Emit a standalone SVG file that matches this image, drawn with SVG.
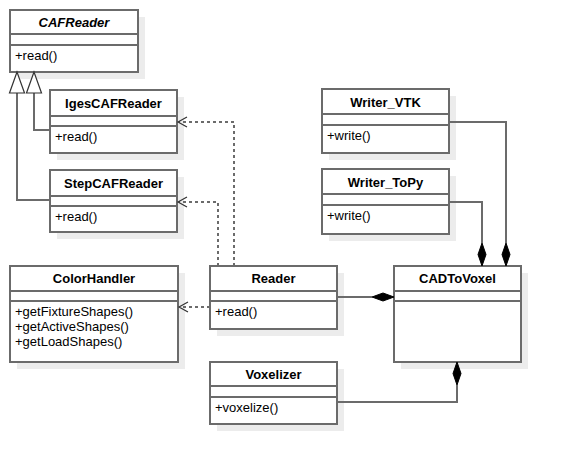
<svg xmlns="http://www.w3.org/2000/svg" width="561" height="465" viewBox="0 0 561 465">
<style>
.sh{fill:#ececec;stroke:none}
.box{fill:#fff;stroke:#6b6b6b;stroke-width:2}
.sep{stroke:#6b6b6b;stroke-width:2}
.t{font-family:"Liberation Sans",Arial,sans-serif;font-size:13px;font-weight:bold;fill:#000;text-anchor:middle}
.ti{font-style:italic}
.m{font-family:"Liberation Sans",Arial,sans-serif;font-size:13px;fill:#000}
.ln{fill:none;stroke:#6b6b6b;stroke-width:2}
.dash{fill:none;stroke:#6b6b6b;stroke-width:2;stroke-dasharray:3 3}
.tri{fill:#fff;stroke:#333;stroke-width:1.2}
.dia{fill:#000;stroke:#000;stroke-width:1}
.open{fill:none;stroke:#333;stroke-width:1.2}
</style>
<rect width="561" height="465" fill="#fff"/>
<g id="CAFReader">
<rect class="sh" x="17" y="17" width="128" height="62"/>
<rect class="box" x="10" y="10" width="128" height="62"/>
<line class="sep" x1="10" y1="34" x2="138" y2="34"/>
<line class="sep" x1="10" y1="45" x2="138" y2="45"/>
<text class="t ti" x="74" y="27">CAFReader</text>
<text class="m" x="15" y="60">+read()</text>
</g>
<g id="IgesCAFReader">
<rect class="sh" x="57" y="97" width="127" height="63"/>
<rect class="box" x="50" y="90" width="127" height="63"/>
<line class="sep" x1="50" y1="116" x2="177" y2="116"/>
<line class="sep" x1="50" y1="126" x2="177" y2="126"/>
<text class="t" x="113.5" y="108">IgesCAFReader</text>
<text class="m" x="55" y="141">+read()</text>
</g>
<g id="StepCAFReader">
<rect class="sh" x="57" y="177" width="127" height="62"/>
<rect class="box" x="50" y="170" width="127" height="62"/>
<line class="sep" x1="50" y1="196" x2="177" y2="196"/>
<line class="sep" x1="50" y1="206" x2="177" y2="206"/>
<text class="t" x="113.5" y="188">StepCAFReader</text>
<text class="m" x="55" y="221">+read()</text>
</g>
<g id="Writer_VTK">
<rect class="sh" x="329" y="96" width="127" height="64"/>
<rect class="box" x="322" y="89" width="127" height="64"/>
<line class="sep" x1="322" y1="114" x2="449" y2="114"/>
<line class="sep" x1="322" y1="125" x2="449" y2="125"/>
<text class="t" x="385.5" y="107">Writer_VTK</text>
<text class="m" x="327" y="140">+write()</text>
</g>
<g id="Writer_ToPy">
<rect class="sh" x="329" y="176" width="127" height="65"/>
<rect class="box" x="322" y="169" width="127" height="65"/>
<line class="sep" x1="322" y1="194" x2="449" y2="194"/>
<line class="sep" x1="322" y1="205" x2="449" y2="205"/>
<text class="t" x="385.5" y="187">Writer_ToPy</text>
<text class="m" x="327" y="220">+write()</text>
</g>
<g id="ColorHandler">
<rect class="sh" x="17" y="273" width="168" height="96"/>
<rect class="box" x="10" y="266" width="168" height="96"/>
<line class="sep" x1="10" y1="291" x2="178" y2="291"/>
<line class="sep" x1="10" y1="301" x2="178" y2="301"/>
<text class="t" x="94" y="283">ColorHandler</text>
<text class="m" x="15" y="316">+getFixtureShapes()</text>
<text class="m" x="15" y="331">+getActiveShapes()</text>
<text class="m" x="15" y="346">+getLoadShapes()</text>
</g>
<g id="Reader">
<rect class="sh" x="217" y="273" width="127" height="63"/>
<rect class="box" x="210" y="266" width="127" height="63"/>
<line class="sep" x1="210" y1="291" x2="337" y2="291"/>
<line class="sep" x1="210" y1="301" x2="337" y2="301"/>
<text class="t" x="273.5" y="283">Reader</text>
<text class="m" x="215" y="316">+read()</text>
</g>
<g id="CADToVoxel">
<rect class="sh" x="401" y="273" width="127" height="96"/>
<rect class="box" x="394" y="266" width="127" height="96"/>
<line class="sep" x1="394" y1="291" x2="521" y2="291"/>
<line class="sep" x1="394" y1="301" x2="521" y2="301"/>
<text class="t" x="457.5" y="283">CADToVoxel</text>
</g>
<g id="Voxelizer">
<rect class="sh" x="217" y="369" width="127" height="62"/>
<rect class="box" x="210" y="362" width="127" height="62"/>
<line class="sep" x1="210" y1="386" x2="337" y2="386"/>
<line class="sep" x1="210" y1="397" x2="337" y2="397"/>
<text class="t" x="273.5" y="379">Voxelizer</text>
<text class="m" x="215" y="412">+voxelize()</text>
</g>
<g id="connectors">
<polyline class="ln" points="17,93 17,200 50,200"/>
<polyline class="ln" points="34,93 34,130 50,130"/>
<polygon class="tri" points="17,72 9.5,93 24.5,93"/>
<polygon class="tri" points="34,72 26.5,93 41.5,93"/>
<polyline class="dash" points="234,266 234,122 179,122"/>
<polyline class="open" points="187,117 178,122 187,127"/>
<polyline class="dash" points="218,266 218,202 179,202"/>
<polyline class="open" points="187,197 178,202 187,207"/>
<line class="dash" x1="210" y1="307" x2="180" y2="307"/>
<polyline class="open" points="188,302 179,307 188,312"/>
<line class="ln" x1="337" y1="297" x2="372" y2="297"/>
<polygon class="dia" points="394,297 383,293 372,297 383,301"/>
<polyline class="ln" points="337,402 457,402 457,385"/>
<polygon class="dia" points="457,362 453,373.5 457,385 461,373.5"/>
<polyline class="ln" points="449,122 506,122 506,243"/>
<polygon class="dia" points="506,266 502,254.5 506,243 510,254.5"/>
<polyline class="ln" points="449,202 482,202 482,243"/>
<polygon class="dia" points="482,266 478,254.5 482,243 486,254.5"/>
</g>
</svg>
